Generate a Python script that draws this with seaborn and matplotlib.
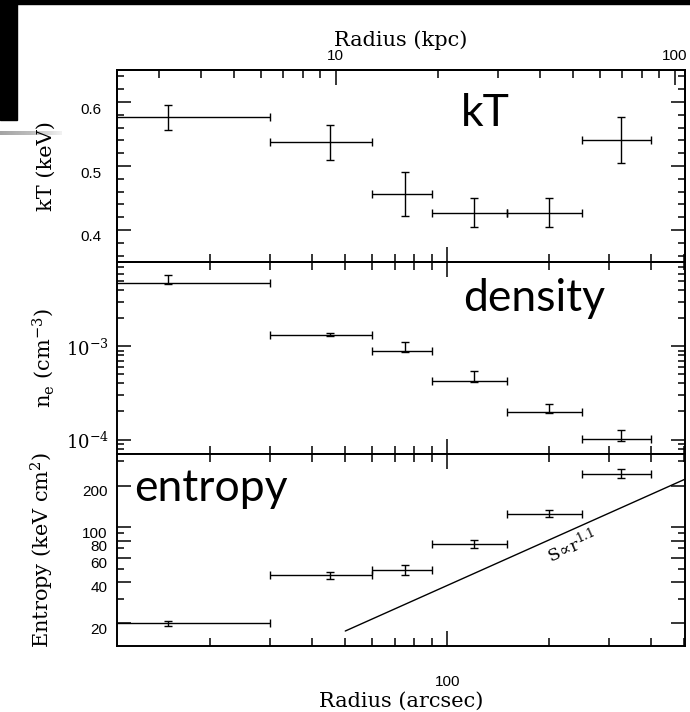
import numpy as np
import pandas as pd
import matplotlib
matplotlib.use("Agg")
import matplotlib.pyplot as plt
import seaborn as sns
from matplotlib.ticker import FixedLocator, FixedFormatter, NullFormatter
from matplotlib.transforms import ScaledTranslation
from matplotlib.patches import Rectangle

# ---- radial bins (arcsec) ----
r_mid = [15, 45, 75, 120, 200, 325]
r_lo = [0, 30, 60, 90, 150, 250]
r_hi = [30, 60, 90, 150, 250, 400]

# ---- temperature profile (keV) ----
kT = [0.576, 0.537, 0.456, 0.427, 0.427, 0.541]
kT_err = [0.019, 0.027, 0.034, 0.023, 0.023, 0.036]

# ---- electron density (cm^-3) with lower / upper bounds ----
ne = [4.77e-3, 1.334e-3, 8.9e-4, 4.28e-4, 1.98e-4, 1.026e-4]
ne_low = [4.68e-3, 1.29e-3, 8.62e-4, 4.11e-4, 1.93e-4, 9.6e-5]
ne_high = [5.87e-3, 1.38e-3, 1.122e-3, 5.4e-4, 2.41e-4, 1.26e-4]

# ---- entropy (keV cm^2) ----
S = [20.1, 44.6, 49.2, 75.7, 125.2, 244.5]
S_err = [0.8, 2.5, 4.0, 5.0, 7.0, 18.0]

# ---- power-law guide S ~ r^1.1 (end points) ----
guide_r = [50, 500]
guide_S = [17.6, 221.6]

kpc_per_arcsec = 0.2132
xlim = (10.6, 503)

sns.set_theme(style="ticks")
plt.rcParams.update({
    "font.family": ["DejaVu Serif"],
    "mathtext.fontset": "dejavuserif",
    "axes.linewidth": 1.4,
    "axes.edgecolor": "black",
    "axes.labelcolor": "black",
    "xtick.color": "black",
    "ytick.color": "black",
    "text.color": "black",
})

W, H = 690, 712
fig = plt.figure(figsize=(W / 100, H / 100), dpi=100)


def panel(top, bottom):
    return fig.add_axes([117 / W, 1 - bottom / H, 568 / W, (bottom - top) / H])


ax_t = panel(70, 262)
ax_n = panel(262, 454)
ax_s = panel(454, 646)

mid = np.array(r_mid, float)
xerr = [mid - np.array(r_lo, float), np.array(r_hi, float) - mid]
eb = dict(fmt="none", ecolor="black", elinewidth=1.0, capsize=2.8, capthick=1.0)

ax_t.errorbar(r_mid, kT, xerr=xerr, yerr=kT_err, **eb)
ne_a = np.array(ne)
ax_n.errorbar(r_mid, ne, xerr=xerr,
              yerr=[ne_a - np.array(ne_low), np.array(ne_high) - ne_a], **eb)
ax_s.errorbar(r_mid, S, xerr=xerr, yerr=S_err, **eb)

guide = pd.DataFrame({"r": guide_r, "S": guide_S})
sns.lineplot(data=guide, x="r", y="S", ax=ax_s, color="black", lw=1.0)
ax_s.text(233, 72.4, r"$\mathrm{S}\!\propto\!\mathrm{r}^{1.1}$", fontsize=12.5,
          rotation=24.2, ha="center", va="center", rotation_mode="anchor")

x_major = [100]
x_minor = [20, 30, 40, 50, 60, 70, 80, 90, 200, 300, 400, 500]

for ax in (ax_t, ax_n, ax_s):
    ax.set_xscale("log")
    ax.set_xlim(*xlim)
    ax.xaxis.set_major_locator(FixedLocator(x_major))
    ax.xaxis.set_minor_locator(FixedLocator(x_minor))
    ax.xaxis.set_minor_formatter(NullFormatter())
    ax.xaxis.set_major_formatter(NullFormatter())
    ax.set_xlabel("")
    ax.set_ylabel("")
    ax.tick_params(axis="x", which="major", direction="in", length=11, width=1.1,
                   top=True, bottom=True)
    ax.tick_params(axis="x", which="minor", direction="in", length=6, width=1.1,
                   top=True, bottom=True)
    ax.tick_params(axis="y", which="major", direction="in", length=10, width=1.1,
                   left=True, right=True)
    ax.tick_params(axis="y", which="minor", direction="in", length=5, width=1.1,
                   left=True, right=True)
    for sp in ax.spines.values():
        sp.set_visible(True)
        sp.set_linewidth(1.4)

# --- temperature panel ---
ax_t.set_ylim(0.35, 0.65)
ax_t.yaxis.set_major_locator(FixedLocator([0.4, 0.5, 0.6]))
ax_t.yaxis.set_major_formatter(FixedFormatter(["0.4", "0.5", "0.6"]))
ax_t.yaxis.set_minor_locator(FixedLocator(np.round(np.arange(0.36, 0.65, 0.02), 2)))
ax_t.tick_params(axis="y", labelsize=11, labelfontfamily="Liberation Sans", pad=11)
ax_t.tick_params(axis="x", which="both", top=False)
ax_t.set_ylabel("kT (keV)", fontsize=15)

# top axis in kpc
ax_k = ax_t.twiny()
ax_k.set_xscale("log")
ax_k.set_xlim(xlim[0] * kpc_per_arcsec, xlim[1] * kpc_per_arcsec)
ax_k.xaxis.set_major_locator(FixedLocator([10, 100]))
ax_k.xaxis.set_major_formatter(FixedFormatter(["10", "100"]))
ax_k.xaxis.set_minor_locator(FixedLocator([3, 4, 5, 6, 7, 8, 9, 20, 30, 40, 50, 60, 70, 80, 90]))
ax_k.xaxis.set_minor_formatter(NullFormatter())
ax_k.tick_params(axis="x", which="major", direction="in", length=11, width=1.1,
                 labelsize=11, labelfontfamily="Liberation Sans", pad=5)
ax_k.tick_params(axis="x", which="minor", direction="in", length=6, width=1.1)
ax_k.set_xlabel("Radius (kpc)", fontsize=15, labelpad=2)
for sp in ax_k.spines.values():
    sp.set_linewidth(1.4)

# --- density panel ---
ax_n.set_yscale("log")
ax_n.set_ylim(7e-5, 8e-3)
ax_n.yaxis.set_major_locator(FixedLocator([1e-4, 1e-3]))
ax_n.yaxis.set_major_formatter(FixedFormatter([r"$10^{-4}$", r"$10^{-3}$"]))
ax_n.yaxis.set_minor_locator(FixedLocator(
    [8e-5, 9e-5] + [k * 1e-4 for k in range(2, 10)] + [k * 1e-3 for k in range(2, 9)]))
ax_n.yaxis.set_minor_formatter(NullFormatter())
ax_n.tick_params(axis="y", labelsize=13, pad=6)
ax_n.set_ylabel(r"n$_{\rm e}$ (cm$^{-3}$)", fontsize=15)

# --- entropy panel ---
ax_s.set_yscale("log")
ax_s.set_ylim(13.7, 340)
ax_s.yaxis.set_major_locator(FixedLocator([20, 40, 60, 80, 100, 200]))
ax_s.yaxis.set_major_formatter(FixedFormatter(["20", "40", "60", "80", "100", "200"]))
ax_s.yaxis.set_minor_locator(FixedLocator([30, 50, 70, 90, 300]))
ax_s.yaxis.set_minor_formatter(NullFormatter())
ax_s.tick_params(axis="y", labelsize=11, labelfontfamily="Liberation Sans", pad=7)
ax_s.xaxis.set_major_formatter(FixedFormatter(["100"]))
ax_s.tick_params(axis="x", labelsize=11, labelfontfamily="Liberation Sans", pad=21)
ax_s.set_ylabel(r"Entropy (keV cm$^2$)", fontsize=15)
ax_s.set_xlabel("Radius (arcsec)", fontsize=15, labelpad=2)

for ax in (ax_t, ax_n, ax_s):
    ax.yaxis.set_label_coords(-0.107, 0.5)

# panel titles
big = dict(fontsize=32, family="Lato", va="baseline", ha="left")
ax_t.text(0.605, 0.708, "kT", transform=ax_t.transAxes, **big)
ax_n.text(0.609, 0.745, "density", transform=ax_n.transAxes, **big)
ax_s.text(0.030, 0.757, "entropy", transform=ax_s.transAxes, **big)

# nudge y tick labels slightly below their ticks
for ax, dy in ((ax_t, -6), (ax_n, -1), (ax_s, -5)):
    for lab in ax.get_yticklabels():
        lab.set_transform(lab.get_transform() + ScaledTranslation(0, dy / 100, fig.dpi_scale_trans))

# slide frame decoration
fig.patches.append(Rectangle((0, 1 - 4 / H), 1, 4 / H, transform=fig.transFigure,
                             color="black", zorder=5))
fig.patches.append(Rectangle((0, 1 - 120 / H), 17 / W, 120 / H, transform=fig.transFigure,
                             color="black", zorder=5))
bar = fig.add_axes([0, 1 - 135 / H, 62 / W, 4 / H])
grad = np.linspace(0, 1, 64)[None, :]
bar.imshow(grad, aspect="auto", cmap=matplotlib.colors.LinearSegmentedColormap.from_list(
    "g", ["#a4a4a4", "#bdbdbd", "#f2f2f2"]))
bar.set_axis_off()
bar.set_zorder(-1)

fig.savefig("out.png", dpi=100)
